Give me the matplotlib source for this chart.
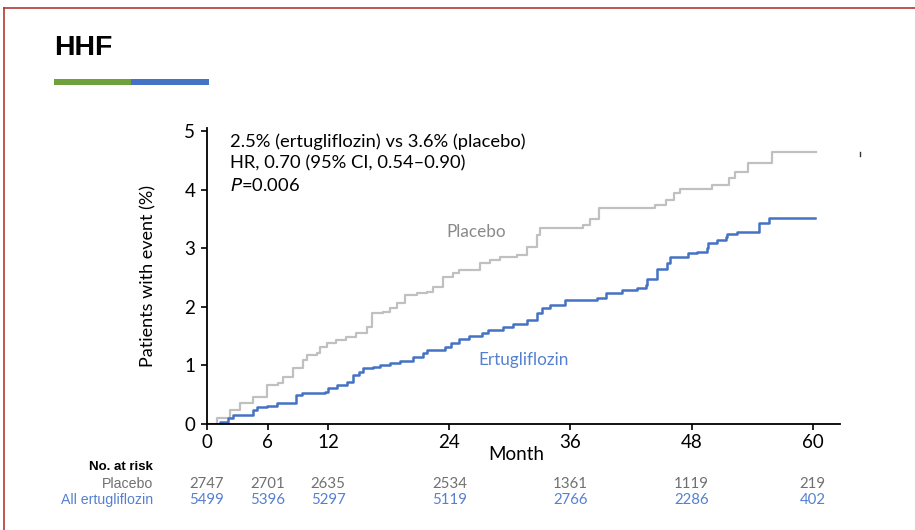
import matplotlib
matplotlib.use("Agg")
import matplotlib.pyplot as plt
from matplotlib.lines import Line2D
from matplotlib.patches import Rectangle

# Kaplan-Meier style cumulative incidence (months, % with event)
placebo_t = [0, 1.0, 2.3, 3.3, 4.6, 5.9, 7.0, 7.5, 8.5, 9.5, 9.9, 10.9, 11.2, 11.9,
             12.8, 13.8, 14.8, 15.8, 16.3, 17.4, 18.1, 18.8, 19.6, 20.8, 21.8, 22.4,
             23.4, 24.4, 25.0, 27.0, 28.0, 29.0, 30.7, 31.7, 32.7, 33.0, 37.2, 37.9,
             38.8, 44.4, 45.5, 46.3, 46.9, 50.0, 51.7, 52.3, 53.6, 56.0, 60.3]
placebo_v = [0, 0.10, 0.24, 0.35, 0.46, 0.66, 0.70, 0.81, 0.95, 1.09, 1.18, 1.21, 1.32, 1.38,
             1.43, 1.49, 1.55, 1.66, 1.89, 1.91, 1.98, 2.06, 2.20, 2.23, 2.26, 2.34,
             2.51, 2.57, 2.63, 2.75, 2.80, 2.85, 2.88, 3.02, 3.22, 3.34, 3.40, 3.50,
             3.68, 3.74, 3.82, 3.94, 4.01, 4.08, 4.19, 4.30, 4.45, 4.64, 4.64]

ertu_t = [0, 1.3, 2.1, 2.6, 4.6, 5.0, 5.9, 6.9, 8.8, 9.4, 11.7, 12.0, 12.9, 13.9,
          14.5, 15.1, 15.5, 16.4, 17.1, 18.1, 19.1, 20.4, 21.4, 21.8, 23.6, 24.2,
          25.0, 26.0, 27.2, 27.8, 29.3, 30.3, 31.7, 32.7, 33.2, 34.0, 35.5, 38.6,
          39.5, 41.1, 42.6, 43.5, 43.6, 44.6, 45.6, 45.9, 47.6, 48.5, 49.5, 49.6,
          50.5, 51.4, 51.5, 52.5, 54.7, 55.7, 60.2]
ertu_v = [0, 0.03, 0.10, 0.16, 0.24, 0.29, 0.31, 0.36, 0.50, 0.53, 0.55, 0.61, 0.67, 0.72,
          0.84, 0.89, 0.95, 0.98, 1.00, 1.04, 1.08, 1.15, 1.21, 1.27, 1.32, 1.38,
          1.45, 1.50, 1.56, 1.61, 1.66, 1.71, 1.77, 1.89, 1.98, 2.03, 2.12, 2.15,
          2.24, 2.28, 2.32, 2.37, 2.47, 2.64, 2.75, 2.85, 2.91, 2.94, 3.00, 3.09,
          3.14, 3.19, 3.24, 3.28, 3.43, 3.52, 3.52]

x_ticks = [0, 6, 12, 24, 36, 48, 60]
y_ticks = [0, 1, 2, 3, 4, 5]
risk_placebo = [2747, 2701, 2635, 2534, 1361, 1119, 219]
risk_ertu = [5499, 5396, 5297, 5119, 2766, 2286, 402]

GRAY = "#c0c0c0"
BLUE = "#4472c4"
SANS = ["Lato", "DejaVu Sans"]
HEAD = ["Liberation Sans", "DejaVu Sans"]

W, H = 915, 530
fig = plt.figure(figsize=(W / 100, H / 100), dpi=100)

def fx(px):
    return px / W

def fy(py):
    return 1 - py / H

# frame lines (top and left)
fig.add_artist(Line2D([fx(4), 1], [fy(8), fy(8)], color="#b03838", lw=1.2))
fig.add_artist(Line2D([fx(4), fx(4)], [fy(8), 0], color="#b03838", lw=1.2))

# heading and coloured rule
fig.text(fx(54), fy(48), "HHF", fontsize=20.5, fontweight="bold", family=HEAD,
         va="center", ha="left")
fig.add_artist(Rectangle((fx(54), fy(85)), fx(77), 6 / H, color="#70a03c", lw=0))
fig.add_artist(Rectangle((fx(131), fy(85)), fx(78), 6 / H, color=BLUE, lw=0))

ax = fig.add_axes([fx(207), fy(424), fx(840 - 207), (424 - 128) / H])
ax.step(placebo_t, placebo_v, where="post", color=GRAY, lw=1.6)
ax.step(ertu_t, ertu_v, where="post", color=BLUE, lw=1.8)

ax.set_xlim(0, 62.7)
ax.set_ylim(0, 5.05)
ax.set_xticks(x_ticks)
ax.set_yticks(y_ticks)
for s in ("top", "right"):
    ax.spines[s].set_visible(False)
for s in ("left", "bottom"):
    ax.spines[s].set_linewidth(1.3)
ax.tick_params(direction="out", length=4.5, width=1.2, labelsize=13.5, pad=4)
ax.tick_params(axis="x", pad=3)
for lab in ax.get_xticklabels() + ax.get_yticklabels():
    lab.set_family(SANS)

ax.set_ylabel("Patients with event (%)", family=SANS, fontsize=13, labelpad=20)
ax.text(30.6, -0.52, "Month", family=SANS, fontsize=13.5, ha="center", va="center")

ax.text(0.036, 0.955, "2.5% (ertugliflozin) vs 3.6% (placebo)", transform=ax.transAxes,
        family=SANS, fontsize=13.2, va="center", ha="left")
ax.text(0.036, 0.88, "HR, 0.70 (95% CI, 0.54\u20130.90)", transform=ax.transAxes,
        family=SANS, fontsize=13.2, va="center", ha="left")
ax.text(0.036, 0.805, "$P$=0.006", transform=ax.transAxes,
        family=SANS, fontsize=13.2, va="center", ha="left")

ax.text(26.7, 3.28, "Placebo", color="#8a8a8a", family=SANS, fontsize=12.3,
        ha="center", va="center")
ax.text(31.4, 1.09, "Ertugliflozin", color="#5580d0", family=SANS, fontsize=12.3,
        ha="center", va="center")

# number at risk table
fig.text(fx(153), fy(467), "No. at risk", family=HEAD, fontsize=9.5,
         fontweight="bold", ha="right", va="center")
fig.text(fx(153), fy(484), "Placebo", family=HEAD, fontsize=10.2, color="#707070",
         ha="right", va="center")
fig.text(fx(153), fy(500), "All ertugliflozin", family=HEAD, fontsize=10.2,
         color="#5580d0", ha="right", va="center")
for t, p, e in zip(x_ticks, risk_placebo, risk_ertu):
    xf = ax.transData.transform((t, 0))[0] / fig.dpi / fig.get_figwidth()
    fig.text(xf, fy(484), str(p), family=SANS, fontsize=10.8, color="#707070",
             ha="center", va="center")
    fig.text(xf, fy(500), str(e), family=SANS, fontsize=10.8, color="#5580d0",
             ha="center", va="center")

# small mark at right of the plot
fig.add_artist(Line2D([fx(859.5), fx(859.5)], [fy(152), fy(156)], color="#333333", lw=1))

fig.savefig("out.png", dpi=100)
